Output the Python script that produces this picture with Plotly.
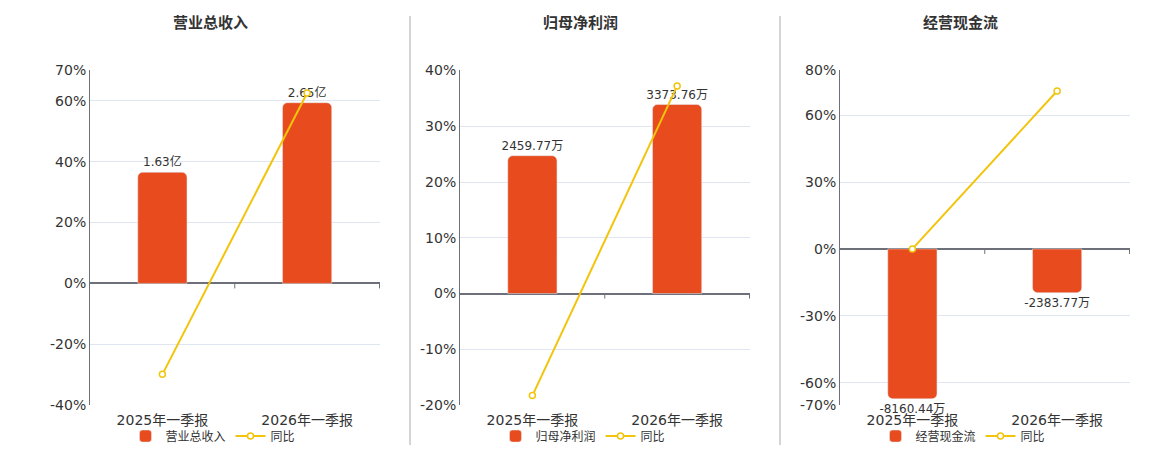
import plotly.graph_objects as go

# données
categories = ["2025年一季报", "2026年一季报"]
titres = ["营业总收入", "归母净利润", "经营现金流"]

revenu = [1.63, 2.65]            # 亿
revenu_txt = ["1.63亿", "2.65亿"]
revenu_yoy = [-29.9, 62.6]

profit = [2459.77, 3373.76]      # 万
profit_txt = ["2459.77万", "3373.76万"]
profit_yoy = [-18.3, 37.2]

cash = [-8160.44, -2383.77]      # 万
cash_txt = ["-8160.44万", "-2383.77万"]
cash_yoy = [0.0, 70.8]

pct_ticks = [
    [-40, -20, 0, 20, 40, 60, 70],
    [-20, -10, 0, 10, 20, 30, 40],
    [-70, -60, -30, 0, 30, 60, 80],
]

BAR = "#E84B1D"
LINE = "#F2C40C"
TXT = "#333333"
AXE = "#6E7079"
GRID = "#E0E6F1"
FONT = "DejaVu Sans, Noto Sans CJK SC, sans-serif"

# décalage / échelle observés dans la capture
OFF_X = 8
TOP = 16
SY = 0.9656
W, H = 1152, 450


def px_x(px):
    return (px - OFF_X) / W


def px_y(py):
    return 1 - (py / SY - TOP) / H


panels_px = [(90, 380), (460, 750), (840, 1130)]
# échelle des barres : combien d'unités par point de %
echelles = [2.65 / 59.4, 3373.76 / 33.9, 8160.44 / 67.2]

series = [
    (revenu, revenu_txt, revenu_yoy),
    (profit, profit_txt, profit_yoy),
    (cash, cash_txt, cash_yoy),
]

fig = go.Figure()
ydom = [px_y(405), px_y(70)]

for i, (vals, txts, yoy) in enumerate(series):
    n = i + 1
    xa = "x" if n == 1 else f"x{n}"
    yb = "y" if n == 1 else f"y{2 * n - 1}"
    yp = f"y{2 * n}"
    leg = "legend" if n == 1 else f"legend{n}"
    lo, hi = pct_ticks[i][0], pct_ticks[i][-1]
    k = echelles[i]

    fig.add_trace(go.Bar(
        x=categories, y=vals, text=txts, name=titres[i],
        textposition="outside", cliponaxis=False, constraintext="none",
        textfont=dict(size=12, color=TXT),
        marker_color=BAR, width=0.34,
        xaxis=xa, yaxis=yb, legend=leg,
    ))
    fig.add_trace(go.Scatter(
        x=categories, y=yoy, name="同比", mode="lines+markers",
        line=dict(color=LINE, width=2),
        marker=dict(size=6, color="white", line=dict(color=LINE, width=1.5)),
        cliponaxis=False,
        xaxis=xa, yaxis=yp, legend=leg,
    ))

    x0, x1 = panels_px[i]
    dom = [px_x(x0), px_x(x1)]
    xkey = "xaxis" if n == 1 else f"xaxis{n}"
    ybkey = "yaxis" if n == 1 else f"yaxis{2 * n - 1}"
    ypkey = f"yaxis{2 * n}"

    fig.update_layout({
        xkey: dict(domain=dom, anchor=yp, type="category",
                   showline=False, showgrid=False, ticks="",
                   ticklabelstandoff=5,
                   tickfont=dict(size=14, color=TXT)),
        ybkey: dict(domain=ydom, anchor=xa, range=[lo * k, hi * k],
                    visible=False, showgrid=False, zeroline=False),
        ypkey: dict(domain=ydom, anchor=xa, overlaying=yb, side="left",
                    range=[lo, hi], tickvals=pct_ticks[i],
                    ticktext=[f"{v}%" for v in pct_ticks[i]],
                    tickfont=dict(size=14, color=TXT),
                    showline=True, linecolor=AXE, linewidth=1,
                    showgrid=True, gridcolor=GRID, gridwidth=1,
                    zeroline=True, zerolinecolor=AXE, zerolinewidth=2),
        leg: dict(orientation="h", x=px_x((x0 + x1) / 2 - 22), xanchor="center",
                  y=px_y(436), yanchor="middle",
                  font=dict(size=12, color=TXT), bgcolor="rgba(0,0,0,0)",
                  itemwidth=30, tracegroupgap=0),
    })

    # petits tirets sur l'axe des x au niveau du zéro
    for pos in [0.5, 1.5]:
        fig.add_shape(type="line", xref=xa, yref=yp, x0=pos, x1=pos,
                      ysizemode="pixel", yanchor=0, y0=0, y1=-5,
                      line=dict(color=AXE, width=1))

    fig.add_annotation(text=f"<b>{titres[i]}</b>", xref="paper", yref="paper",
                       x=px_x((x0 + x1) / 2 - 25), y=px_y(22),
                       xanchor="center", yanchor="middle",
                       showarrow=False, font=dict(size=15, color=TXT))

# séparateurs verticaux
for xs in [410, 780]:
    fig.add_shape(type="line", xref="paper", yref="paper",
                  x0=px_x(xs), x1=px_x(xs), y0=px_y(445), y1=1,
                  line=dict(color="#AAAAAA", width=1))

fig.update_layout(
    width=W, height=H,
    margin=dict(l=0, r=0, t=0, b=0),
    font=dict(family=FONT, color=TXT),
    plot_bgcolor="white", paper_bgcolor="white",
    barcornerradius=5,
    showlegend=True,
)

fig.write_html("out.html")
